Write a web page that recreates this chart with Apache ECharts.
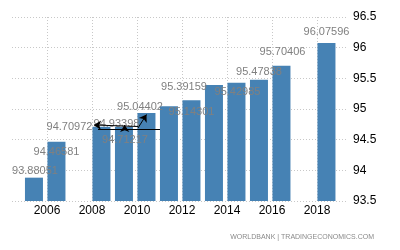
<!DOCTYPE html>
<html>
<head>
<meta charset="utf-8">
<script src="https://cdn.jsdelivr.net/npm/echarts@6/dist/echarts.min.js"></script>
<style>html,body{margin:0;padding:0;background:#fff;}#c{width:400px;height:250px;}</style>
</head>
<body>
<div id="c"></div>
<script>
const years = [2005, 2006, 2008, 2009, 2010, 2011, 2012, 2013, 2014, 2015, 2016, 2018];
const values = [93.88051, 94.46581, 94.70972, 94.71217, 94.93398, 95.04402, 95.14301, 95.39159, 95.42985, 95.47838, 95.70406, 96.07596];
const xTickYears = [2006, 2008, 2010, 2012, 2014, 2016, 2018];
const yTicks = [93.5, 94, 94.5, 95, 95.5, 96, 96.5];
// label placement (style only): [dx, dy] in pixels
const labelOffsets = [[1,-1],[0,16],[-32,6],[1,19],[-30,16],[-29,6],[0,17],[-30,7],[1,15],[0,-2],[1,-8],[0,-6]];
// label leader arrows, in chart (year, value) coordinates: [from, to, arrowAtEnd]
const leaderArrows = [
  [[2010.044, 94.715], [2008.089, 94.739], true],
  [[2008.267, 94.666], [2011.022, 94.666], false],
  [[2009.453, 94.658], [2009.453, 94.739], true],
  [[2010.044, 94.690], [2010.422, 94.910], true]
];

const font = '"Liberation Sans", Arial, sans-serif';
const chart = echarts.init(document.getElementById('c'), null, {renderer: 'canvas'});
chart.setOption({
  animation: false,
  grid: {left: 12, right: 53, top: 17, bottom: 49, containLabel: false},
  xAxis: {
    type: 'value',
    min: 2004.444, max: 2019.333,
    axisLine: {show: false},
    axisTick: {show: false, customValues: xTickYears},
    axisLabel: {customValues: xTickYears, formatter: v => String(Math.round(v)), color: '#000', fontSize: 12, fontFamily: font, margin: 4},
    splitLine: {show: true, lineStyle: {color: '#c8c8c8', type: [1, 2], width: 1}}
  },
  yAxis: {
    type: 'value', position: 'right',
    min: 93.5, max: 96.5, interval: 0.5,
    axisLine: {show: false}, axisTick: {show: false},
    axisLabel: {color: '#000', fontSize: 12, fontFamily: font, margin: 6, formatter: v => String(v)},
    splitLine: {show: true, lineStyle: {color: '#c8c8c8', type: [1, 2], width: 1}}
  },
  graphic: [{
    type: 'text', right: 26, bottom: 9,
    style: {text: 'WORLDBANK | TRADINGECONOMICS.COM', fill: '#8a8a8a', font: '7px ' + font}
  }],
  series: [{
    type: 'bar',
    barWidth: 18,
    itemStyle: {color: '#4682b4'},
    data: years.map((y, i) => ({
      value: [y + 0.42, values[i]],
      label: {offset: labelOffsets[i]}
    })),
    label: {
      show: true, position: 'top', distance: 0,
      color: '#808080', fontSize: 11, fontFamily: font,
      formatter: p => String(p.value[1])
    },
    markLine: {
      silent: true,
      symbolSize: 7,
      label: {show: false},
      emphasis: {disabled: true},
      lineStyle: {color: '#000', width: 1, type: 'solid'},
      data: leaderArrows.map(a => [
        {coord: a[0], symbol: 'none'},
        {coord: a[1], symbol: a[2] ? 'arrow' : 'none'}
      ])
    }
  }]
});
</script>
</body>
</html>
